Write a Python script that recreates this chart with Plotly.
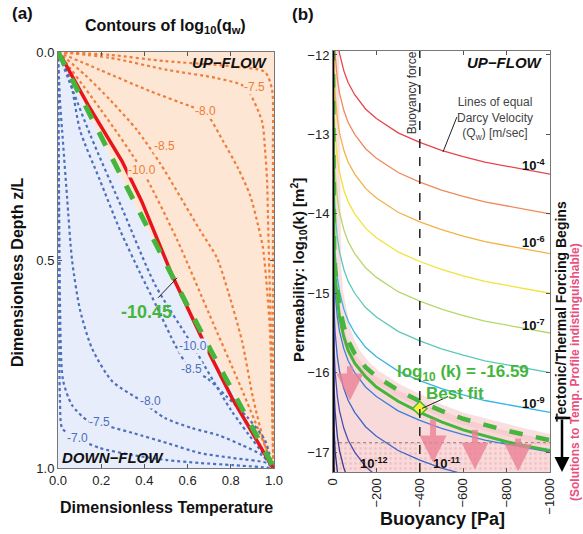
import plotly.graph_objects as go

# ---------------- Panel (a) data (T = dimensionless temperature, z = depth) ----------------
UP_LEVELS = ["-7.0", "-7.5", "-8.0", "-8.5", "-10.0"]
UP_T = [
    [0, 0.241, 0.495, 0.796, 0.958, 0.991, 0.995, 0.995, 0.997],
    [0, 0.241, 0.505, 0.736, 0.866, 0.944, 0.958, 0.968, 0.972, 0.977, 0.986, 0.991, 0.997],
    [0, 0.194, 0.426, 0.611, 0.681, 0.764, 0.833, 0.889, 0.926, 0.949, 0.968, 0.981, 0.991, 0.997],
    [0, 0.125, 0.241, 0.366, 0.472, 0.657, 0.736, 0.787, 0.852, 0.903, 0.958, 0.997],
    [0, 0.2, 0.389, 0.55, 0.70, 0.85, 1.0],
]
UP_Z = [
    [0, 0.007, 0.022, 0.034, 0.048, 0.091, 0.236, 0.6, 1.0],
    [0, 0.014, 0.043, 0.063, 0.084, 0.166, 0.231, 0.310, 0.392, 0.5, 0.668, 0.837, 1.0],
    [0, 0.043, 0.094, 0.130, 0.144, 0.214, 0.279, 0.344, 0.416, 0.471, 0.572, 0.668, 0.837, 1.0],
    [0, 0.055, 0.115, 0.188, 0.267, 0.428, 0.495, 0.575, 0.695, 0.832, 0.945, 1.0],
    [0, 0.14, 0.284, 0.45, 0.63, 0.81, 1.0],
]
DOWN_LEVELS = ["-7.0", "-7.5", "-8.0", "-8.5", "-10.0"]
DOWN_T = [
    [0, 0.005, 0.009, 0.019, 0.065, 0.194, 0.347, 0.505, 0.657, 0.810, 0.995],
    [0, 0.005, 0.009, 0.023, 0.065, 0.139, 0.241, 0.347, 0.505, 0.657, 0.810, 0.968, 0.995],
    [0, 0.009, 0.019, 0.042, 0.065, 0.102, 0.157, 0.25, 0.380, 0.495, 0.620, 0.741, 0.852, 0.944, 0.995],
    [0, 0.056, 0.102, 0.194, 0.287, 0.380, 0.458, 0.542, 0.611, 0.690, 0.782, 0.875, 0.958, 0.995],
    [0, 0.15, 0.30, 0.45, 0.625, 0.80, 1.0],
]
DOWN_Z = [
    [0, 0.476, 0.837, 0.904, 0.923, 0.952, 0.969, 0.981, 0.988, 0.993, 1.0],
    [0, 0.356, 0.596, 0.788, 0.849, 0.887, 0.901, 0.916, 0.940, 0.964, 0.976, 0.988, 1.0],
    [0, 0.115, 0.188, 0.349, 0.5, 0.620, 0.712, 0.791, 0.837, 0.880, 0.904, 0.921, 0.945, 0.969, 1.0],
    [0, 0.067, 0.188, 0.308, 0.428, 0.531, 0.613, 0.704, 0.762, 0.784, 0.829, 0.877, 0.933, 1.0],
    [0, 0.20, 0.38, 0.56, 0.707, 0.86, 1.0],
]
UP_LABEL_POS = [None, (0.912, 0.084), (0.681, 0.142), (0.491, 0.226), (0.389, 0.284)]
DOWN_LABEL_POS = [(0.088, 0.928), (0.194, 0.889), (0.426, 0.839), (0.620, 0.762), (0.625, 0.707)]

OBS_T = [0, 0.019, 0.139, 0.296, 0.380, 0.389, 0.532, 0.681, 0.806, 0.995]
OBS_Z = [0, 0.014, 0.127, 0.262, 0.351, 0.361, 0.541, 0.704, 0.832, 1.0]
FIT_T = [0, 0.17, 0.35, 0.54, 0.71, 0.85, 0.96, 1.0]
FIT_Z = [0, 0.175, 0.36, 0.55, 0.72, 0.855, 0.96, 1.0]

# ---------------- Panel (b) data ----------------
B_PA = [-0.1, -1, -2, -5, -10, -20, -30, -50, -70, -100, -150, -200, -300, -400, -500, -600, -700, -800, -900, -1000]
K_LINES = [
    [-9.5, -10.5, -10.8, -11.2, -11.5, -11.8, -11.98, -12.2, -12.35, -12.5, -12.68, -12.8, -12.98, -13.1, -13.2, -13.28, -13.35, -13.4, -13.45, -13.5],
    [-10.0, -11.0, -11.3, -11.7, -12.0, -12.3, -12.48, -12.7, -12.85, -13.0, -13.18, -13.3, -13.48, -13.6, -13.7, -13.78, -13.85, -13.9, -13.95, -14.0],
    [-10.5, -11.5, -11.8, -12.2, -12.5, -12.8, -12.98, -13.2, -13.35, -13.5, -13.68, -13.8, -13.98, -14.1, -14.2, -14.28, -14.35, -14.4, -14.45, -14.5],
    [-11.0, -12.0, -12.3, -12.7, -13.0, -13.3, -13.48, -13.7, -13.85, -14.0, -14.18, -14.3, -14.48, -14.6, -14.7, -14.78, -14.85, -14.9, -14.95, -15.0],
    [-11.5, -12.5, -12.8, -13.2, -13.5, -13.8, -13.98, -14.2, -14.35, -14.5, -14.68, -14.8, -14.98, -15.1, -15.2, -15.28, -15.35, -15.4, -15.45, -15.5],
    [-12.0, -13.0, -13.3, -13.7, -14.0, -14.3, -14.48, -14.7, -14.85, -15.0, -15.18, -15.3, -15.48, -15.6, -15.7, -15.78, -15.85, -15.9, -15.95, -16.0],
    [-12.5, -13.5, -13.8, -14.2, -14.5, -14.8, -14.98, -15.2, -15.35, -15.5, -15.68, -15.8, -15.98, -16.1, -16.2, -16.28, -16.35, -16.4, -16.45, -16.5],
    [-13.0, -14.0, -14.3, -14.7, -15.0, -15.3, -15.48, -15.7, -15.85, -16.0, -16.18, -16.3, -16.48, -16.6, -16.7, -16.78, -16.85, -16.9, -16.95, -17.0],
    [-13.5, -14.5, -14.8, -15.2, -15.5, -15.8, -15.98, -16.2, -16.35, -16.5, -16.68, -16.8, -16.98, -17.1, -17.2, -17.28, -17.35, -17.4, -17.45, -17.5],
    [-14.0, -15.0, -15.3, -15.7, -16.0, -16.3, -16.48, -16.7, -16.85, -17.0, -17.18, -17.3, -17.48, -17.6, -17.7, -17.78, -17.85, -17.9, -17.95, -18.0],
    [-14.5, -15.5, -15.8, -16.2, -16.5, -16.8, -16.98, -17.2, -17.35, -17.5, -17.68, -17.8, -17.98, -18.1, -18.2, -18.28, -18.35, -18.4, -18.45, -18.5],
    [-15.0, -16.0, -16.3, -16.7, -17.0, -17.3, -17.48, -17.7, -17.85, -18.0, -18.18, -18.3, -18.48, -18.6, -18.7, -18.78, -18.85, -18.9, -18.95, -19.0],
    [-15.5, -16.5, -16.8, -17.2, -17.5, -17.8, -17.98, -18.2, -18.35, -18.5, -18.68, -18.8, -18.98, -19.1, -19.2, -19.28, -19.35, -19.4, -19.45, -19.5],
]
LINE_COLORS = ["#e8454a", "#ef8a5a", "#f3b147", "#f2e23a", "#b5d86a", "#5cc9b8", "#36b4e6",
               "#3d7fd8", "#3a67c9", "#4a4eb0", "#343c9a", "#2a2f84", "#20246c"]
Q_LABELS = ["10<sup>-4</sup>", "10<sup>-6</sup>", "10<sup>-7</sup>", "10<sup>-9</sup>", "10<sup>-11</sup>", "10<sup>-12</sup>"]
Q_LABEL_B = [-922, -922, -922, -922, -525, -189]
Q_LABEL_K = [-13.39, -14.36, -15.40, -16.38, -17.14, -17.14]

FIT_B = [-0.1, -1, -2, -5, -10, -20, -30, -50, -70, -100, -150, -200, -300, -400, -500, -600, -700, -800, -900, -1000]
FIT_K = [-12.8, -13.8, -14.1, -14.5, -14.8, -15.1, -15.3, -15.55, -15.72, -15.88, -16.05, -16.18, -16.36, -16.5, -16.62, -16.72, -16.8, -16.87, -16.93, -16.98]
BOUND_B = [-0.01, -0.1, -1, -2, -5, -10, -20, -30, -50, -70, -100, -150, -200, -300, -400, -500, -600, -700, -800, -900, -1000]
BOUND_K = [-11.9, -12.7, -13.7, -14.0, -14.4, -14.7, -15.0, -15.18, -15.42, -15.6, -15.76, -15.93, -16.05, -16.22, -16.36, -16.48, -16.58, -16.66, -16.73, -16.79, -16.85]
BEST_B, BEST_K = -400, -16.45
ARROW_B = [-78, -461, -654, -853]
ARROW_K0 = [-15.90, -16.57, -16.70, -16.81]
ARROW_K1 = [-16.35, -17.13, -17.22, -17.24]
K_MIN, K_MAX = -17.25, -11.95
HATCH_K = -16.88

W, H = 583, 534
def px(x):
    return x / W
def py(y):
    return 1 - y / H

FONT = "Liberation Sans, Arial, sans-serif"
ORANGE_FILL = "#fde6d4"
BLUE_FILL = "#e7edfb"
ORANGE = "#ef7d39"
BLUE = "#4d6fbe"
GREEN = "#45b53c"

fig = go.Figure()

# ---- Panel (a) background regions ----
fig.add_trace(go.Scatter(x=FIT_T + [0, 0], y=FIT_Z + [1, 0], fill="toself", fillcolor=BLUE_FILL,
                         line=dict(width=0), mode="lines", hoverinfo="skip", xaxis="x", yaxis="y"))
fig.add_trace(go.Scatter(x=FIT_T + [1, 0], y=FIT_Z + [0, 0], fill="toself", fillcolor=ORANGE_FILL,
                         line=dict(width=0), mode="lines", hoverinfo="skip", xaxis="x", yaxis="y"))

for t, z in zip(UP_T, UP_Z):
    fig.add_trace(go.Scatter(x=t, y=z, mode="lines",
                             line=dict(color=ORANGE, width=2.2, dash="dot", shape="spline", smoothing=0.7),
                             xaxis="x", yaxis="y"))
for t, z in zip(DOWN_T, DOWN_Z):
    fig.add_trace(go.Scatter(x=t, y=z, mode="lines",
                             line=dict(color=BLUE, width=2.2, dash="dot", shape="spline", smoothing=0.7),
                             xaxis="x", yaxis="y"))

fig.add_trace(go.Scatter(x=OBS_T, y=OBS_Z, mode="lines", line=dict(color="#e8141c", width=3.5),
                         xaxis="x", yaxis="y"))
fig.add_trace(go.Scatter(x=FIT_T, y=FIT_Z, mode="lines", line=dict(color=GREEN, width=5, dash="dash"),
                         xaxis="x", yaxis="y"))

# ---- Panel (b) ----
poly_b = BOUND_B + [-1000, 0]
poly_k = BOUND_K + [K_MIN, K_MIN]
fig.add_trace(go.Scatter(x=poly_b, y=poly_k, fill="toself", fillcolor="#f9dada", line=dict(width=0),
                         mode="lines", hoverinfo="skip", xaxis="x2", yaxis="y2"))
fig.add_trace(go.Scatter(x=[0, -1000, -1000, 0, 0], y=[HATCH_K, HATCH_K, K_MIN, K_MIN, HATCH_K],
                         fill="toself", fillcolor="#f9dada",
                         fillpattern=dict(shape=".", fgcolor="#e9a9b0", bgcolor="#f9dada", size=5, solidity=0.25),
                         line=dict(width=0), mode="lines", hoverinfo="skip", xaxis="x2", yaxis="y2"))
fig.add_trace(go.Scatter(x=BOUND_B, y=BOUND_K, mode="lines", line=dict(color="rgba(246,196,200,0.55)", width=12),
                         xaxis="x2", yaxis="y2"))
fig.add_trace(go.Scatter(x=[0, -1000], y=[HATCH_K, HATCH_K], mode="lines",
                         line=dict(color="#b08a8a", width=1.2, dash="dot"), xaxis="x2", yaxis="y2"))

for k, c in zip(K_LINES, LINE_COLORS):
    fig.add_trace(go.Scatter(x=B_PA, y=k, mode="lines", line=dict(color=c, width=1.3),
                             xaxis="x2", yaxis="y2"))

fig.add_trace(go.Scatter(x=FIT_B, y=FIT_K, mode="lines", line=dict(color=GREEN, width=3),
                         xaxis="x2", yaxis="y2"))
fig.add_trace(go.Scatter(x=BOUND_B, y=BOUND_K, mode="lines", line=dict(color=GREEN, width=4.5, dash="dash"),
                         xaxis="x2", yaxis="y2"))
fig.add_trace(go.Scatter(x=[BEST_B], y=[BEST_K], mode="markers",
                         marker=dict(symbol="diamond", size=11, color="#f6f03c", line=dict(color=GREEN, width=1.5)),
                         xaxis="x2", yaxis="y2"))

shapes = [
    dict(type="line", xref="x2", yref="y2 domain", x0=0, x1=0, y0=0, y1=1, line=dict(color="black", width=2.5)),
    dict(type="line", xref="x2", yref="y2 domain", x0=-400, x1=-400, y0=0, y1=1,
         line=dict(color="#222", width=1.5, dash="dash")),
    dict(type="line", xref="x2", yref="y2", x0=-571, y0=-12.78, x1=-507, y1=-13.22, line=dict(color="#222", width=1)),
    dict(type="line", xref="x2", yref="y2", x0=-410, y0=-16.45, x1=-530, y1=-16.3, line=dict(color="#222", width=1)),
    dict(type="line", xref="x", yref="y", x0=0.463, y0=0.591, x1=0.551, y1=0.543, line=dict(color="#222", width=1)),
    dict(type="line", xref="paper", yref="paper", x0=px(555), x1=px(570), y0=py(418), y1=py(418),
         line=dict(color="black", width=2.5)),
]

C = dict(xanchor="center", yanchor="middle")
ann = []
for lab, pos in zip(UP_LEVELS, UP_LABEL_POS):
    if pos:
        ann.append(dict(x=pos[0], y=pos[1], xref="x", yref="y", text=lab, showarrow=False, **C,
                        font=dict(size=12, color=ORANGE, family=FONT), bgcolor=ORANGE_FILL, borderpad=0))
for lab, pos in zip(DOWN_LEVELS, DOWN_LABEL_POS):
    ann.append(dict(x=pos[0], y=pos[1], xref="x", yref="y", text=lab, showarrow=False, **C,
                    font=dict(size=12, color=BLUE, family=FONT), bgcolor=BLUE_FILL, borderpad=0))
ann += [
    dict(x=0.41, y=0.625, xref="x", yref="y", text="<b>-10.45</b>", showarrow=False, **C,
         font=dict(size=18, color=GREEN, family=FONT)),
    dict(x=0.98, y=0.026, xref="x", yref="y", text="<b><i>UP−FLOW</i></b>", showarrow=False, xanchor="right",
         yanchor="middle", font=dict(size=15, color="#111", family=FONT)),
    dict(x=0.01, y=0.975, xref="x", yref="y", text="<b><i>DOWN−FLOW</i></b>", showarrow=False, xanchor="left",
         yanchor="middle", font=dict(size=15, color="#111", family=FONT)),
    dict(x=px(165), y=py(26), xref="paper", yref="paper", text="<b>Contours of log<sub>10</sub>(q<sub>w</sub>)</b>",
         showarrow=False, **C, font=dict(size=16, color="#111", family=FONT)),
    dict(x=px(22), y=py(14), xref="paper", yref="paper", text="<b>(a)</b>", showarrow=False, **C,
         font=dict(size=17, color="#111", family=FONT)),
    dict(x=px(303), y=py(15), xref="paper", yref="paper", text="<b>(b)</b>", showarrow=False, **C,
         font=dict(size=17, color="#111", family=FONT)),
    dict(x=px(166), y=py(507), xref="paper", yref="paper", text="<b>Dimensionless Temperature</b>", showarrow=False,
         **C, font=dict(size=16, color="#111", family=FONT)),
    dict(x=px(17), y=py(272), xref="paper", yref="paper", text="<b>Dimensionless Depth z/L</b>", showarrow=False,
         textangle=-90, **C, font=dict(size=16, color="#111", family=FONT)),
    dict(x=px(298), y=py(270), xref="paper", yref="paper",
         text="<b>Permeability: log<sub>10</sub>(k) [m<sup>2</sup>]</b>", showarrow=False,
         textangle=-90, **C, font=dict(size=15, color="#111", family=FONT)),
    dict(x=px(442), y=py(519), xref="paper", yref="paper", text="<b>Buoyancy [Pa]</b>", showarrow=False, **C,
         font=dict(size=18, color="#111", family=FONT)),
    dict(x=-365, y=-12.48, xref="x2", yref="y2", text="Buoyancy force", showarrow=False, textangle=-90, **C,
         font=dict(size=12, color="#333", family=FONT)),
    dict(x=-745, y=-12.8, xref="x2", yref="y2", text="Lines of equal<br>Darcy Velocity<br>(Q<sub>w</sub>) [m/sec]",
         showarrow=False, **C, font=dict(size=12, color="#444", family=FONT)),
    dict(x=-975, y=-12.09, xref="x2", yref="y2", text="<b><i>UP−FLOW</i></b>", showarrow=False, xanchor="right",
         yanchor="middle", font=dict(size=15, color="#111", family=FONT)),
    dict(x=-600, y=-16.0, xref="x2", yref="y2", text="<b>log<sub>10</sub> (k) = -16.59</b>", showarrow=False, **C,
         font=dict(size=17, color=GREEN, family=FONT)),
    dict(x=-562, y=-16.26, xref="x2", yref="y2", text="<b>Best fit</b>", showarrow=False, **C,
         font=dict(size=17, color=GREEN, family=FONT)),
    dict(x=px(561), y=py(312), xref="paper", yref="paper", text="<b>Tectonic/Thermal Forcing Begins</b>",
         showarrow=False, textangle=-90, **C, font=dict(size=14, color="#111", family=FONT)),
    dict(x=px(562), y=py(472), xref="paper", yref="paper", ax=0, ay=-54, text="", showarrow=True,
         arrowhead=2, arrowsize=1.2, arrowwidth=2.5, arrowcolor="black"),
    dict(x=px(575), y=py(372), xref="paper", yref="paper",
         text="<b>(Solutions to Temp. Profile indistinguishable)</b>", showarrow=False, textangle=-90, **C,
         font=dict(size=12, color="#e8507e", family=FONT)),
]
for lab, b, k in zip(Q_LABELS, Q_LABEL_B, Q_LABEL_K):
    ann.append(dict(x=b, y=k, xref="x2", yref="y2", text="<b>" + lab + "</b>", showarrow=False, **C,
                    font=dict(size=13, color="#111", family=FONT)))
for b, k0, k1 in zip(ARROW_B, ARROW_K0, ARROW_K1):
    ann.append(dict(x=b, y=k1, ax=b, ay=k0, xref="x2", yref="y2", axref="x2", ayref="y2", text="",
                    showarrow=True, arrowhead=2, arrowsize=0.9, arrowwidth=6, arrowcolor="rgba(236,130,150,0.8)"))

axis_common = dict(showline=True, linecolor="#777", linewidth=1, mirror="ticks", ticks="inside", ticklen=4,
                   tickcolor="#555", showgrid=False, zeroline=False, automargin=False,
                   tickfont=dict(size=13, color="#222", family=FONT))

fig.update_layout(
    width=W, height=H, margin=dict(l=0, r=0, t=0, b=0, pad=0, autoexpand=False), showlegend=False,
    paper_bgcolor="white", plot_bgcolor="white", font=dict(family=FONT),
    xaxis=dict(domain=[px(58), px(274)], range=[0, 1], tickvals=[0, 0.2, 0.4, 0.6, 0.8, 1.0],
               ticktext=["0.0", "0.2", "0.4", "0.6", "0.8", "1.0"], anchor="y", **axis_common),
    yaxis=dict(domain=[py(468), py(52)], range=[1, 0], tickvals=[0, 0.5, 1.0],
               ticktext=["0.0", "0.5", "1.0"], anchor="x", **axis_common),
    xaxis2=dict(domain=[px(333), px(550)], range=[0, -1000], tickvals=[0, -200, -400, -600, -800, -1000],
                tickangle=-90, anchor="y2", **axis_common),
    yaxis2=dict(domain=[py(472), py(51)], range=[K_MIN, K_MAX], tickvals=[-12, -13, -14, -15, -16, -17],
                ticktext=["−12", "−13", "−14", "−15", "−16", "−17"], anchor="x2", **axis_common),
    shapes=shapes, annotations=ann,
)

fig.write_html("out.html")
